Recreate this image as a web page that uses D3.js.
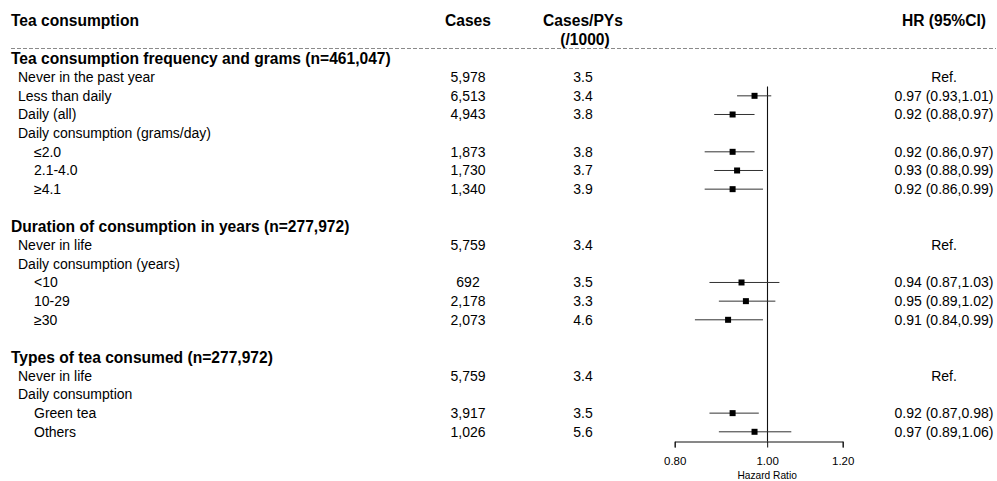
<!DOCTYPE html>
<html>
<head>
<meta charset="utf-8">
<script src="https://cdn.jsdelivr.net/npm/d3@7/dist/d3.min.js"></script>
<style>
  html, body { margin: 0; padding: 0; background: #fff; }
  svg { display: block; font-family: "Liberation Sans", Arial, sans-serif; }
</style>
</head>
<body>
<svg id="chart" width="997" height="481"></svg>
<script>
// Row labels, in display order (empty string = spacer row)
const rowLabels = [
  "Tea consumption frequency and grams (n=461,047)",
  "Never in the past year",
  "Less than daily",
  "Daily (all)",
  "Daily consumption (grams/day)",
  "\u22642.0",
  "2.1-4.0",
  "\u22654.1",
  "",
  "Duration of consumption in years (n=277,972)",
  "Never in life",
  "Daily consumption (years)",
  "<10",
  "10-29",
  "\u226530",
  "",
  "Types of tea consumed (n=277,972)",
  "Never in life",
  "Daily consumption",
  "Green tea",
  "Others"
];
// 0 = section heading, 1 = first-level item, 2 = nested item
const rowLevels = [0,1,1,1,1,2,2,2,1,0,1,1,2,2,2,1,0,1,1,2,2];
const cases     = ["", "5,978", "6,513", "4,943", "", "1,873", "1,730", "1,340", "",
                   "", "5,759", "", "692", "2,178", "2,073", "",
                   "", "5,759", "", "3,917", "1,026"];
const rates     = ["", "3.5", "3.4", "3.8", "", "3.8", "3.7", "3.9", "",
                   "", "3.4", "", "3.5", "3.3", "4.6", "",
                   "", "3.4", "", "3.5", "5.6"];
// Hazard ratios with 95% CI; "ref" marks the reference group, null = no estimate
const hr = [null, "ref", 0.97, 0.92, null, 0.92, 0.93, 0.92, null,
            null, "ref", null, 0.94, 0.95, 0.91, null,
            null, "ref", null, 0.92, 0.97];
const ciLow = [null, null, 0.93, 0.88, null, 0.86, 0.88, 0.86, null,
               null, null, null, 0.87, 0.89, 0.84, null,
               null, null, null, 0.87, 0.89];
const ciHigh = [null, null, 1.01, 0.97, null, 0.97, 0.99, 0.99, null,
                null, null, null, 1.03, 1.02, 0.99, null,
                null, null, null, 0.98, 1.06];
const axisTicks = [0.80, 1.00, 1.20];
const headers = { label: "Tea consumption", cases: "Cases", rate: ["Cases/PYs", "(/1000)"], hr: "HR (95%CI)" };
const axisTitle = "Hazard Ratio";

const svg = d3.select("#chart");

const y = d3.scalePoint()
  .domain(d3.range(rowLabels.length))
  .range([58.5, 431.8]);

const x = d3.scaleLog()
  .domain([0.80, 1.20])
  .range([674.7, 842.7]);

const col = { cases: 468, rate: 583, hr: 944 };
const indent = [11, 18, 34];
const boldSize = 15.6;

// Header
const head = svg.append("g").attr("font-weight", "bold").attr("font-size", boldSize).attr("fill", "#000");
head.append("text").attr("x", 11).attr("y", 21).attr("dy", "0.35em").text(headers.label);
head.append("text").attr("x", col.cases).attr("y", 21).attr("dy", "0.35em").attr("text-anchor", "middle").text(headers.cases);
head.append("text").attr("x", col.rate).attr("y", 21).attr("dy", "0.35em").attr("text-anchor", "middle").text(headers.rate[0]);
head.append("text").attr("x", col.rate + 2).attr("y", 40).attr("dy", "0.35em").attr("text-anchor", "middle").text(headers.rate[1]);
head.append("text").attr("x", col.hr).attr("y", 21).attr("dy", "0.35em").attr("text-anchor", "middle").text(headers.hr);

svg.append("line")
  .attr("x1", 11).attr("x2", 996)
  .attr("y1", 48.5).attr("y2", 48.5)
  .attr("stroke", "#8a8a8a").attr("stroke-width", 1)
  .attr("stroke-dasharray", "4,2");

// Table rows
const rows = svg.append("g").selectAll("g")
  .data(d3.range(rowLabels.length))
  .join("g")
  .attr("transform", i => `translate(0,${y(i)})`);

rows.append("text")
  .attr("x", i => indent[rowLevels[i]])
  .attr("dy", "0.35em")
  .attr("font-size", i => rowLevels[i] === 0 ? boldSize : 14)
  .attr("font-weight", i => rowLevels[i] === 0 ? "bold" : "normal")
  .text(i => rowLabels[i]);

rows.append("text")
  .attr("x", col.cases).attr("dy", "0.35em")
  .attr("text-anchor", "middle").attr("font-size", 14)
  .text(i => cases[i]);

rows.append("text")
  .attr("x", col.rate).attr("dy", "0.35em")
  .attr("text-anchor", "middle").attr("font-size", 14)
  .text(i => rates[i]);

const f2 = d3.format(".2f");
rows.append("text")
  .attr("x", col.hr).attr("dy", "0.35em")
  .attr("text-anchor", "middle").attr("font-size", 14)
  .text(i => hr[i] === "ref" ? "Ref." : hr[i] == null ? "" : `${f2(hr[i])} (${f2(ciLow[i])},${f2(ciHigh[i])})`);

// Forest plot
const est = d3.range(rowLabels.length).filter(i => typeof hr[i] === "number");
const axisY = 441.5;

svg.append("line")
  .attr("x1", Math.round(x(1)) + 0.5).attr("x2", Math.round(x(1)) + 0.5)
  .attr("y1", (y(1) + y(2)) / 2).attr("y2", axisY)
  .attr("stroke", "#111").attr("stroke-width", 1.1);

const fp = svg.append("g");
fp.selectAll("line.ci")
  .data(est)
  .join("line")
  .attr("class", "ci")
  .attr("x1", i => x(ciLow[i])).attr("x2", i => x(ciHigh[i]))
  .attr("y1", i => y(i)).attr("y2", i => y(i))
  .attr("stroke", "#333").attr("stroke-width", 1);

const s = 6;
fp.selectAll("rect")
  .data(est)
  .join("rect")
  .attr("x", i => x(hr[i]) - s / 2).attr("y", i => y(i) - s / 2)
  .attr("width", s).attr("height", s)
  .attr("fill", "#000");

// Axis
const axis = svg.append("g")
  .attr("transform", `translate(0,${axisY})`)
  .call(d3.axisBottom(x).tickValues(axisTicks).tickFormat(d3.format(".2f")).tickSizeOuter(0).tickSize(6));
axis.select(".domain").attr("stroke", "#111");
axis.selectAll(".tick line").attr("stroke", "#111");
axis.selectAll(".tick text")
  .attr("font-size", 11.5).attr("font-family", "Liberation Sans, Arial, sans-serif")
  .attr("fill", "#000").attr("y", 15);

svg.append("text")
  .attr("x", x(1)).attr("y", 475.5).attr("dy", "0.35em")
  .attr("text-anchor", "middle").attr("font-size", 10.2)
  .text(axisTitle);
</script>
</body>
</html>
